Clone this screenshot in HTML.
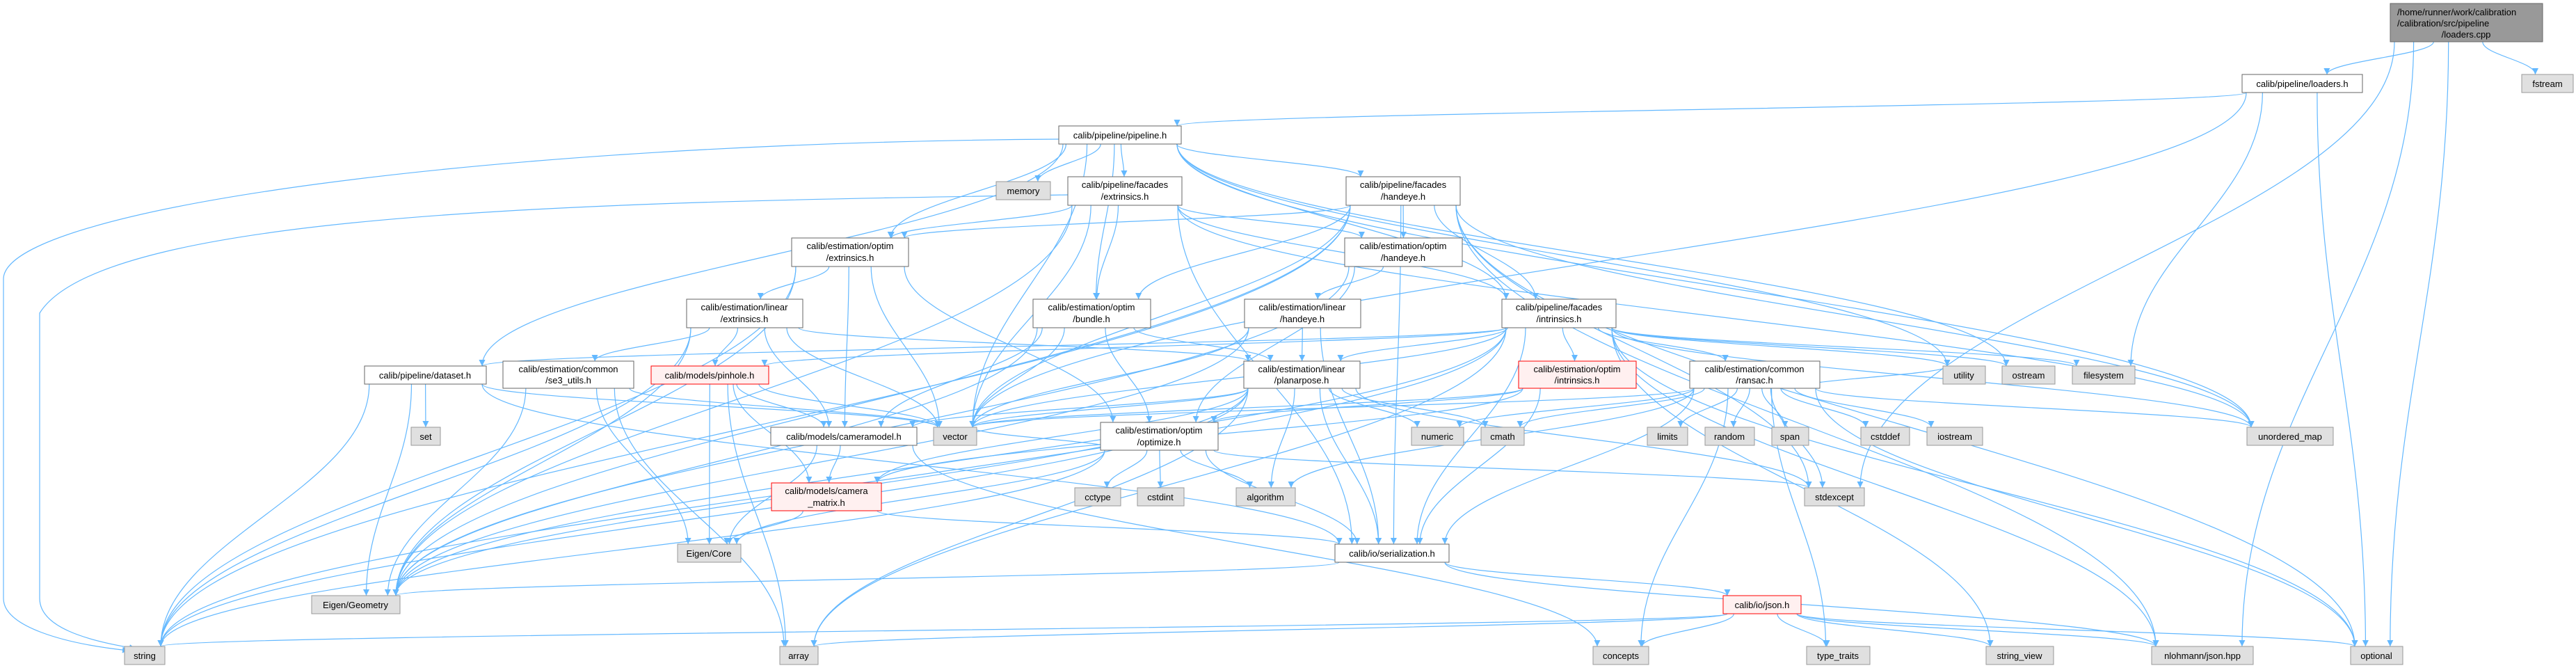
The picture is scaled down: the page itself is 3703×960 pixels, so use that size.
<!DOCTYPE html>
<html><head><meta charset="utf-8"><style>
html,body{margin:0;padding:0;background:#fff;}
svg{display:block;}
text{font-family:"Liberation Sans",sans-serif;font-size:13px;fill:#000;}
</style></head><body>
<svg id="g" width="3703" height="960" viewBox="0 0 3703 960" xmlns="http://www.w3.org/2000/svg">
<defs><marker id="ah" viewBox="0 0 10 10" refX="10" refY="5" markerWidth="9" markerHeight="9" markerUnits="userSpaceOnUse" orient="auto"><path d="M0,0 L10,5 L0,10 z" fill="#63b8ff"/></marker></defs>
<g id="edges" fill="none" stroke="#63b8ff" stroke-width="1.2"></g>
<g id="nodes">
<rect x="3436" y="5" width="219" height="55" fill="#999" stroke="#666"/>
<text x="3446" y="22">/home/runner/work/calibration</text><text x="3446" y="38">/calibration/src/pipeline</text><text x="3545" y="54" text-anchor="middle">/loaders.cpp</text>
<rect x="3223" y="107" width="173" height="26" fill="#fff" stroke="#666"/><text x="3309.5" y="125" text-anchor="middle">calib/pipeline/loaders.h</text>
<rect x="3625" y="107" width="74" height="26" fill="#e0e0e0" stroke="#999"/><text x="3662" y="125" text-anchor="middle">fstream</text>
<rect x="1522" y="181" width="176" height="26" fill="#fff" stroke="#666"/><text x="1610" y="199" text-anchor="middle">calib/pipeline/pipeline.h</text>
<rect x="1432" y="261" width="78" height="26" fill="#e0e0e0" stroke="#999"/><text x="1471" y="279" text-anchor="middle">memory</text>
<rect x="1535" y="254" width="164" height="41" fill="#fff" stroke="#666"/><text x="1617" y="270" text-anchor="middle">calib/pipeline/facades</text><text x="1617" y="287" text-anchor="middle">/extrinsics.h</text>
<rect x="1935" y="254" width="164" height="41" fill="#fff" stroke="#666"/><text x="2017" y="270" text-anchor="middle">calib/pipeline/facades</text><text x="2017" y="287" text-anchor="middle">/handeye.h</text>
<rect x="1138" y="342" width="168" height="41" fill="#fff" stroke="#666"/><text x="1222" y="358" text-anchor="middle">calib/estimation/optim</text><text x="1222" y="375" text-anchor="middle">/extrinsics.h</text>
<rect x="1933" y="342" width="169" height="41" fill="#fff" stroke="#666"/><text x="2017" y="358" text-anchor="middle">calib/estimation/optim</text><text x="2017" y="375" text-anchor="middle">/handeye.h</text>
<rect x="987" y="430" width="167" height="41" fill="#fff" stroke="#666"/><text x="1070" y="446" text-anchor="middle">calib/estimation/linear</text><text x="1070" y="463" text-anchor="middle">/extrinsics.h</text>
<rect x="1485" y="430" width="169" height="41" fill="#fff" stroke="#666"/><text x="1569" y="446" text-anchor="middle">calib/estimation/optim</text><text x="1569" y="463" text-anchor="middle">/bundle.h</text>
<rect x="1789" y="430" width="167" height="41" fill="#fff" stroke="#666"/><text x="1872" y="446" text-anchor="middle">calib/estimation/linear</text><text x="1872" y="463" text-anchor="middle">/handeye.h</text>
<rect x="2159" y="430" width="164" height="41" fill="#fff" stroke="#666"/><text x="2241" y="446" text-anchor="middle">calib/pipeline/facades</text><text x="2241" y="463" text-anchor="middle">/intrinsics.h</text>
<rect x="524" y="526" width="175" height="26" fill="#fff" stroke="#666"/><text x="611" y="544" text-anchor="middle">calib/pipeline/dataset.h</text>
<rect x="723" y="519" width="188" height="39" fill="#fff" stroke="#666"/><text x="817" y="535" text-anchor="middle">calib/estimation/common</text><text x="817" y="551" text-anchor="middle">/se3_utils.h</text>
<rect x="936" y="526" width="169" height="26" fill="#fff0f0" stroke="#f00"/><text x="1020" y="544" text-anchor="middle">calib/models/pinhole.h</text>
<rect x="1788" y="519" width="167" height="39" fill="#fff" stroke="#666"/><text x="1871" y="535" text-anchor="middle">calib/estimation/linear</text><text x="1871" y="551" text-anchor="middle">/planarpose.h</text>
<rect x="2183" y="519" width="169" height="39" fill="#fff0f0" stroke="#f00"/><text x="2267" y="535" text-anchor="middle">calib/estimation/optim</text><text x="2267" y="551" text-anchor="middle">/intrinsics.h</text>
<rect x="2429" y="519" width="187" height="39" fill="#fff" stroke="#666"/><text x="2522" y="535" text-anchor="middle">calib/estimation/common</text><text x="2522" y="551" text-anchor="middle">/ransac.h</text>
<rect x="2793" y="526" width="61" height="26" fill="#e0e0e0" stroke="#999"/><text x="2823" y="544" text-anchor="middle">utility</text>
<rect x="2878" y="526" width="76" height="26" fill="#e0e0e0" stroke="#999"/><text x="2916" y="544" text-anchor="middle">ostream</text>
<rect x="2979" y="526" width="90" height="26" fill="#e0e0e0" stroke="#999"/><text x="3024" y="544" text-anchor="middle">filesystem</text>
<rect x="591" y="614" width="42" height="26" fill="#e0e0e0" stroke="#999"/><text x="612" y="632" text-anchor="middle">set</text>
<rect x="1108" y="614" width="210" height="26" fill="#fff" stroke="#666"/><text x="1213" y="632" text-anchor="middle">calib/models/cameramodel.h</text>
<rect x="1342" y="614" width="62" height="26" fill="#e0e0e0" stroke="#999"/><text x="1373" y="632" text-anchor="middle">vector</text>
<rect x="1582" y="607" width="169" height="40" fill="#fff" stroke="#666"/><text x="1666" y="623" text-anchor="middle">calib/estimation/optim</text><text x="1666" y="640" text-anchor="middle">/optimize.h</text>
<rect x="2029" y="614" width="75" height="26" fill="#e0e0e0" stroke="#999"/><text x="2066" y="632" text-anchor="middle">numeric</text>
<rect x="2129" y="614" width="62" height="26" fill="#e0e0e0" stroke="#999"/><text x="2160" y="632" text-anchor="middle">cmath</text>
<rect x="2368" y="614" width="58" height="26" fill="#e0e0e0" stroke="#999"/><text x="2397" y="632" text-anchor="middle">limits</text>
<rect x="2451" y="614" width="71" height="26" fill="#e0e0e0" stroke="#999"/><text x="2486" y="632" text-anchor="middle">random</text>
<rect x="2547" y="614" width="53" height="26" fill="#e0e0e0" stroke="#999"/><text x="2573" y="632" text-anchor="middle">span</text>
<rect x="2675" y="614" width="70" height="26" fill="#e0e0e0" stroke="#999"/><text x="2710" y="632" text-anchor="middle">cstddef</text>
<rect x="2770" y="614" width="80" height="26" fill="#e0e0e0" stroke="#999"/><text x="2810" y="632" text-anchor="middle">iostream</text>
<rect x="3230" y="614" width="124" height="26" fill="#e0e0e0" stroke="#999"/><text x="3292" y="632" text-anchor="middle">unordered_map</text>
<rect x="1109" y="694" width="158" height="40" fill="#fff0f0" stroke="#f00"/><text x="1188" y="710" text-anchor="middle">calib/models/camera</text><text x="1188" y="727" text-anchor="middle">_matrix.h</text>
<rect x="1545" y="701" width="66" height="26" fill="#e0e0e0" stroke="#999"/><text x="1578" y="719" text-anchor="middle">cctype</text>
<rect x="1635" y="701" width="67" height="26" fill="#e0e0e0" stroke="#999"/><text x="1668" y="719" text-anchor="middle">cstdint</text>
<rect x="1777" y="701" width="85" height="26" fill="#e0e0e0" stroke="#999"/><text x="1819" y="719" text-anchor="middle">algorithm</text>
<rect x="2594" y="701" width="86" height="26" fill="#e0e0e0" stroke="#999"/><text x="2637" y="719" text-anchor="middle">stdexcept</text>
<rect x="974" y="782" width="91" height="26" fill="#e0e0e0" stroke="#999"/><text x="1019" y="800" text-anchor="middle">Eigen/Core</text>
<rect x="1919" y="782" width="164" height="26" fill="#fff" stroke="#666"/><text x="2001" y="800" text-anchor="middle">calib/io/serialization.h</text>
<rect x="448" y="856" width="127" height="26" fill="#e0e0e0" stroke="#999"/><text x="511" y="874" text-anchor="middle">Eigen/Geometry</text>
<rect x="2477" y="856" width="112" height="26" fill="#fff0f0" stroke="#f00"/><text x="2533" y="874" text-anchor="middle">calib/io/json.h</text>
<rect x="179" y="929" width="58" height="26" fill="#e0e0e0" stroke="#999"/><text x="208" y="947" text-anchor="middle">string</text>
<rect x="1121" y="929" width="55" height="26" fill="#e0e0e0" stroke="#999"/><text x="1148" y="947" text-anchor="middle">array</text>
<rect x="2290" y="929" width="80" height="26" fill="#e0e0e0" stroke="#999"/><text x="2330" y="947" text-anchor="middle">concepts</text>
<rect x="2597" y="929" width="91" height="26" fill="#e0e0e0" stroke="#999"/><text x="2642" y="947" text-anchor="middle">type_traits</text>
<rect x="2855" y="929" width="97" height="26" fill="#e0e0e0" stroke="#999"/><text x="2903" y="947" text-anchor="middle">string_view</text>
<rect x="3093" y="929" width="146" height="26" fill="#e0e0e0" stroke="#999"/><text x="3166" y="947" text-anchor="middle">nlohmann/json.hpp</text>
<rect x="3379" y="929" width="75" height="26" fill="#e0e0e0" stroke="#999"/><text x="3416" y="947" text-anchor="middle">optional</text>
</g>
</svg>
<script>
var N={cpp:[3436,3655,5,60],lh:[3223,3396,107,133],fs:[3625,3699,107,133],pl:[1522,1698,181,207],mem:[1432,1510,261,287],fex:[1535,1699,254,295],fhe:[1935,2099,254,295],oex:[1138,1306,342,383],ohe:[1933,2102,342,383],lex:[987,1154,430,471],bun:[1485,1654,430,471],lhe:[1789,1956,430,471],fin:[2159,2323,430,471],ds:[524,699,526,552],se3:[723,911,519,558],pin:[936,1105,526,552],pp:[1788,1955,519,558],oin:[2183,2352,519,558],ran:[2429,2616,519,558],util:[2793,2854,526,552],ost:[2878,2954,526,552],fsys:[2979,3069,526,552],set:[591,633,614,640],cm:[1108,1318,614,640],vec:[1342,1404,614,640],opt:[1582,1751,607,647],num:[2029,2104,614,640],cmath:[2129,2191,614,640],lim:[2368,2426,614,640],rnd:[2451,2522,614,640],span:[2547,2600,614,640],cdef:[2675,2745,614,640],ios:[2770,2850,614,640],um:[3230,3354,614,640],cmx:[1109,1267,694,734],cct:[1545,1611,701,727],cint:[1635,1702,701,727],alg:[1777,1862,701,727],sx:[2594,2680,701,727],ec:[974,1065,782,808],ser:[1919,2083,782,808],eg:[448,575,856,882],json:[2477,2589,856,882],str:[179,237,929,955],arr:[1121,1176,929,955],con:[2290,2370,929,955],tt:[2597,2688,929,955],sv:[2855,2952,929,955],nl:[3093,3239,929,955],optl:[3379,3454,929,955]};
var E="cpp lh,cpp fs,cpp nl,cpp sx,cpp optl,lh pl,lh fsys,lh optl,lh vec,pl mem,pl fex,pl oex,pl bun,pl fhe,pl fin,pl ds,pl vec,pl um,pl util,pl ost,pl str,fex oex,fex bun,fex vec,fex eg,fex ohe,fex fin,fex um,fex ser,fex str,fhe ohe,fhe bun,fhe oex,fhe fin,fhe eg,fhe str,fhe vec,fhe um,fhe optl,fhe sx,fhe ser,fhe nl,oex lex,oex cm,oex vec,oex eg,oex opt,oex str,ohe lhe,ohe opt,ohe eg,bun pp,bun cm,bun vec,bun opt,bun eg,lex pin,lex cm,lex vec,lex se3,lex pp,lex eg,lex str,lhe pp,lhe vec,lhe eg,lhe ser,fin pp,fin oin,fin ran,fin ds,fin pin,fin ser,fin eg,fin str,fin vec,fin util,fin ost,fin fsys,fin optl,fin nl,fin um,fin sv,fin arr,pp cm,pp vec,pp alg,pp num,pp cmath,pp ser,pp sx,pp eg,pp cmx,pp arr,pp str,oin opt,oin vec,oin ser,oin cmx,ran vec,ran alg,ran num,ran cmath,ran lim,ran rnd,ran span,ran sx,ran cdef,ran ios,ran con,ran ser,ran um,ran tt,ran optl,ran util,ds set,ds str,ds vec,ds eg,ds ser,se3 eg,se3 ec,se3 arr,se3 vec,pin cm,pin cmx,pin ec,pin arr,pin vec,cm ec,cm cmx,cm con,cmx ec,cmx ser,opt cct,opt cint,opt alg,opt sx,opt ser,opt ec,opt str,opt vec,ser json,ser nl,ser eg,json con,json tt,json str,json arr,json optl,json sv,json nl".split(",");
var g=document.getElementById("edges"),h="";
function cl(v,a,b){return Math.max(a,Math.min(b,v));}
E.forEach(function(e){var p=e.split(" "),s=N[p[0]],t=N[p[1]];
var cs=(s[0]+s[1])/2,ct=(t[0]+t[1])/2;
var sx=cl(cs+(ct-cs)*0.2,s[0]+6,s[1]-6),sy=s[3];
var tx=cl(ct+(cs-ct)*0.15,t[0]+6,t[1]-6),ty=t[2];
var d;
if(p[0]=="pl"&&p[1]=="str"){d="M"+s[0]+",200 C700,205 10,300 5,400 L5,860 C5,900 90,925 185,935";}
else if(p[0]=="fex"&&p[1]=="str"){d="M"+s[0]+",280 C900,290 150,300 57,450 L57,860 C57,900 120,920 195,932";}
else{var dy=(ty-sy)*0.4;d="M"+sx+","+sy+" C"+sx+","+(sy+dy)+" "+tx+","+(ty-dy)+" "+tx+","+ty;}
h+='<path d="'+d+'" marker-end="url(#ah)"/>';});
g.innerHTML=h;
</script>
</body></html>
